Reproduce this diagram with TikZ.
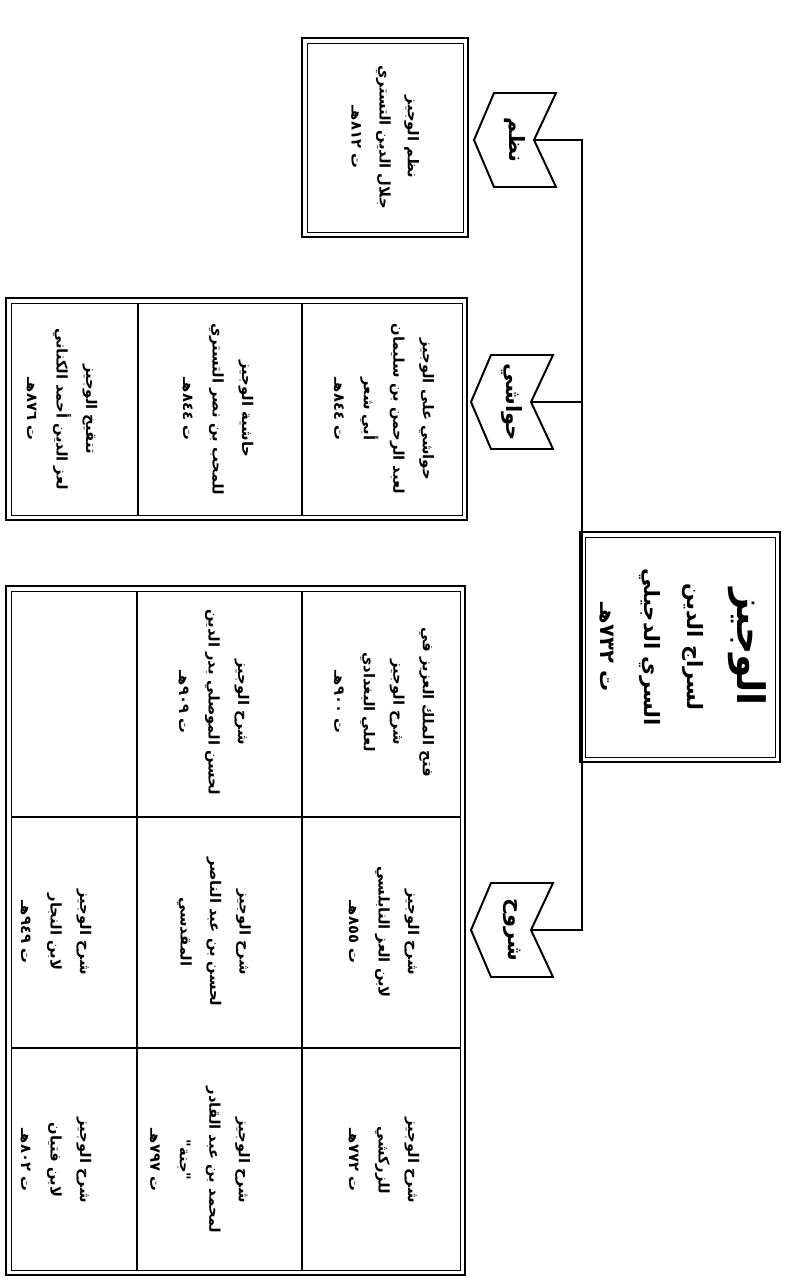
\documentclass[tikz,border=0pt]{standalone}
\usepackage{fontspec}
\usetikzlibrary{calc}
\newfontfamily\arabicfont[Script=Arabic]{DejaVu Sans}
\TeXXeTstate=1
\newcommand{\artxt}[1]{\beginR #1\endR}
\newcommand{\chevpath}[1]{%
  \draw[chevline] ($(#1)+(-41,0)$) -- ++(20,-47) -- ++(62,0) -- ++(-22,47)
    -- ++(22,47) -- ++(-62,0) -- cycle;
  \coordinate (#1N) at ($(#1)+(19,0)$);}

\begin{document}
\begin{tikzpicture}[x=0.025cm, y=-0.025cm,
  cell/.style={rotate=-90, align=center, inner sep=0pt,
    font=\arabicfont\bfseries\fontsize{10.5}{21}\selectfont},
  frame/.style={draw, line width=1.8pt},
  frameinner/.style={draw, line width=0.7pt},
  grid/.style={line width=1pt},
  link/.style={line width=1.2pt},
  chevline/.style={line width=1.4pt, line join=miter},
  chev/.style={rotate=-90, inner sep=0pt,
    font=\arabicfont\bfseries\fontsize{15}{18}\selectfont}]
  \useasboundingbox (0,0) rectangle (788,1281);

  % Main box
  \draw[frame] (580,532) rectangle (780,762);
  \draw[frameinner] (585,537) rectangle (775,757);
  \node[cell, font=\arabicfont\bfseries\fontsize{15}{31}\selectfont] (wajiz) at (683,647)
    {\artxt{\fontsize{27}{34}\selectfont الوجيز}\\[4pt]
     \artxt{لسراج الدين}\\ \artxt{السري الدجيلي}\\ \artxt{ت ٧٣٢هـ}};

  % Nazm box
  \draw[frame] (302,38) rectangle (468,237);
  \draw[frameinner] (307,43) rectangle (463,232);
  \node[cell, font=\arabicfont\bfseries\fontsize{10.5}{20}\selectfont] (nazmtxt) at (385,137)
    {\artxt{نظم الوجيز}\\ \artxt{جلال الدين التستري}\\ \artxt{ت ٨١٢هـ}};

  % Hawashi table
  \draw[frame] (6,298) rectangle (467,520);
  \draw[frameinner] (11,303) rectangle (462,515);
  \draw[grid] (138,303) -- (138,515);
  \draw[grid] (302,303) -- (302,515);
  \node[cell] (hawA) at (384,409)
    {\artxt{حواشي على الوجيز}\\ \artxt{لعبد الرحمن بن سليمان}\\ \artxt{أبي شعر}\\ \artxt{ت ٨٤٤هـ}};
  \node[cell] (hawB) at (218,409)
    {\artxt{حاشية الوجيز}\\ \artxt{للمحب بن نصر التستري}\\ \artxt{ت ٨٤٤هـ}};
  \node[cell] (hawC) at (62,409)
    {\artxt{تنقيح الوجيز}\\ \artxt{لعز الدين أحمد الكناني}\\ \artxt{ت ٨٧٦هـ}};

  % Shuruh table
  \draw[frame] (6,586) rectangle (465,1275);
  \draw[frameinner] (11,591) rectangle (460,1270);
  \draw[grid] (137,591) -- (137,1270);
  \draw[grid] (302,591) -- (302,1270);
  \draw[grid] (11,817) -- (460,817);
  \draw[grid] (11,1048) -- (460,1048);
  \node[cell] (shA1) at (384,702)
    {\artxt{فتح الملك العزيز في}\\ \artxt{شرح الوجيز}\\ \artxt{لعلي البغدادي}\\ \artxt{ت ٩٠٠هـ}};
  \node[cell] (shA2) at (384,932)
    {\artxt{شرح الوجيز}\\ \artxt{لابن العز النابلسي}\\ \artxt{ت ٨٥٥هـ}};
  \node[cell] (shA3) at (384,1160)
    {\artxt{شرح الوجيز}\\ \artxt{للزركشي}\\ \artxt{ت ٧٧٢هـ}};
  \node[cell] (shB1) at (214,702)
    {\artxt{شرح الوجيز}\\ \artxt{لحسن الموصلي بدر الدين}\\ \artxt{ت ٩٠٩هـ}};
  \node[cell] (shB2) at (214,932)
    {\artxt{شرح الوجيز}\\ \artxt{لحسن بن عبد الناصر}\\ \artxt{المقدسي}};
  \node[cell] (shB3) at (200,1160)
    {\artxt{شرح الوجيز}\\ \artxt{لمحمد بن عبد القادر}\\ \artxt{"جنة"}\\ \artxt{ت ٧٩٧هـ}};
  \node[cell] (shC2) at (56,932)
    {\artxt{شرح الوجيز}\\ \artxt{لابن النجار}\\ \artxt{ت ٩٤٩هـ}};
  \node[cell] (shC3) at (56,1160)
    {\artxt{شرح الوجيز}\\ \artxt{لابن فتيان}\\ \artxt{ت ٨٠٢هـ}};

  % Chevrons
  \node[chev] (nazm) at (515,140) {\artxt{نظم}};
  \chevpath{nazm}
  \node[chev] (haw) at (512,402) {\artxt{حواشي}};
  \chevpath{haw}
  \node[chev] (shuruh) at (512,930) {\artxt{شروح}};
  \chevpath{shuruh}

  % Connectors
  \coordinate (jtop) at (582,140);
  \coordinate (jmid) at (582,402);
  \coordinate (jbot) at (582,930);
  \draw[link] (nazmN) -- (jtop) -- (jbot) -- (shuruhN);
  \draw[link] (hawN) -- (jmid);
\end{tikzpicture}
\end{document}
